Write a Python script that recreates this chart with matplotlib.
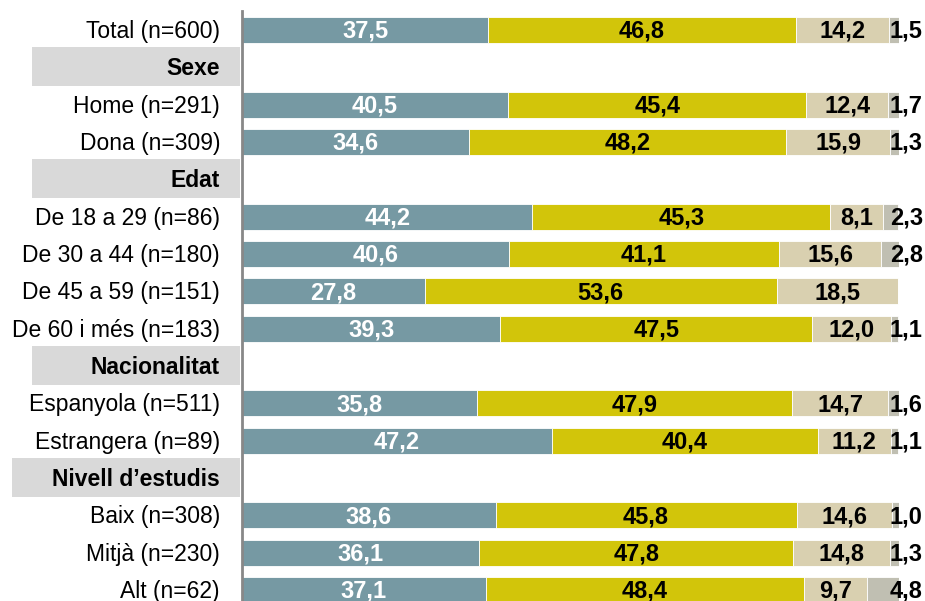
import matplotlib
matplotlib.use("Agg")
import matplotlib.pyplot as plt
from matplotlib.patches import Rectangle
import numpy as np

plt.rcParams['font.family'] = ['Liberation Sans', 'DejaVu Sans']

labels = ["Total (n=600)", "Sexe", "Home (n=291)", "Dona (n=309)", "Edat",
          "De 18 a 29 (n=86)", "De 30 a 44 (n=180)", "De 45 a 59 (n=151)",
          "De 60 i més (n=183)", "Nacionalitat", "Espanyola (n=511)",
          "Estrangera (n=89)", "Nivell d\u2019estudis", "Baix (n=308)",
          "Mitjà (n=230)", "Alt (n=62)"]
is_header = [False, True, False, False, True, False, False, False, False,
             True, False, False, True, False, False, False]

# values for data rows only (in order of non-header labels)
s1 = [37.5, 40.5, 34.6, 44.2, 40.6, 27.8, 39.3, 35.8, 47.2, 38.6, 36.1, 37.1]
s2 = [46.8, 45.4, 48.2, 45.3, 41.1, 53.6, 47.5, 47.9, 40.4, 45.8, 47.8, 48.4]
s3 = [14.2, 12.4, 15.9, 8.1, 15.6, 18.5, 12.0, 14.7, 11.2, 14.6, 14.8, 9.7]
s4 = [1.5, 1.7, 1.3, 2.3, 2.8, 0.0, 1.1, 1.6, 1.1, 1.0, 1.3, 4.8]

colors = ["#7699A3", "#D2C50A", "#D9D0B0", "#C0BFB2"]
text_colors = ["white", "black", "black", "black"]

W, H = 925, 601
fig = plt.figure(figsize=(W / 100, H / 100), dpi=100)
row_px = 37.33
top_px = 11.3
n = len(labels)
ax_h_px = row_px * n
left_px = 242.0
right_px = 899.0
ax = fig.add_axes([left_px / W, 1 - (top_px + ax_h_px) / H,
                   (right_px - left_px) / W, ax_h_px / H])
ax.set_xlim(0, 100)
ax.set_ylim(n - 0.5, -0.5)

data_rows = [i for i, h in enumerate(is_header) if not h]
y = np.array(data_rows, dtype=float)
series = [np.array(s1), np.array(s2), np.array(s3), np.array(s4)]
left = np.zeros(len(y))
fs = 16.5
vfs = 17
dy = 0.04
for k, vals in enumerate(series):
    ax.barh(y, vals, left=left, height=0.7, color=colors[k],
            edgecolor="white", linewidth=0.6)
    for yi, l, v in zip(y, left, vals):
        if v <= 0:
            continue
        txt = f"{v:.1f}".replace(".", ",")
        if k == 3:
            xpos = 101.1
        else:
            xpos = l + v / 2
        ax.text(xpos, yi + dy, txt, ha="center", va="center", fontsize=vfs,
                fontweight="bold", color=text_colors[k], clip_on=False)
    left = left + vals

# category labels and header boxes
px_per_unit = (right_px - left_px) / 100
label_x = (220 - left_px) / px_per_unit
for i, (lab, h) in enumerate(zip(labels, is_header)):
    if h:
        bx0 = (12 if "Nivell" in lab else 32)
        x0 = (bx0 - left_px) / px_per_unit
        x1 = (240 - left_px) / px_per_unit
        ax.add_patch(Rectangle((x0, i - 0.54), x1 - x0, 1.05,
                               facecolor="#D9D9D9", edgecolor="none",
                               clip_on=False, zorder=0))
        ax.text(label_x, i + dy, lab, ha="right", va="center", fontsize=fs,
                fontweight="bold", color="black", clip_on=False)
    else:
        ax.text(label_x, i + dy, lab, ha="right", va="center", fontsize=fs,
                color="black", clip_on=False)

for sp in ["top", "right", "bottom"]:
    ax.spines[sp].set_visible(False)
ax.spines["left"].set_color("#888888")
ax.spines["left"].set_linewidth(2.0)
ax.set_xticks([])
ax.set_yticks([])
ax.patch.set_alpha(0)

fig.savefig("out.png", dpi=100)
